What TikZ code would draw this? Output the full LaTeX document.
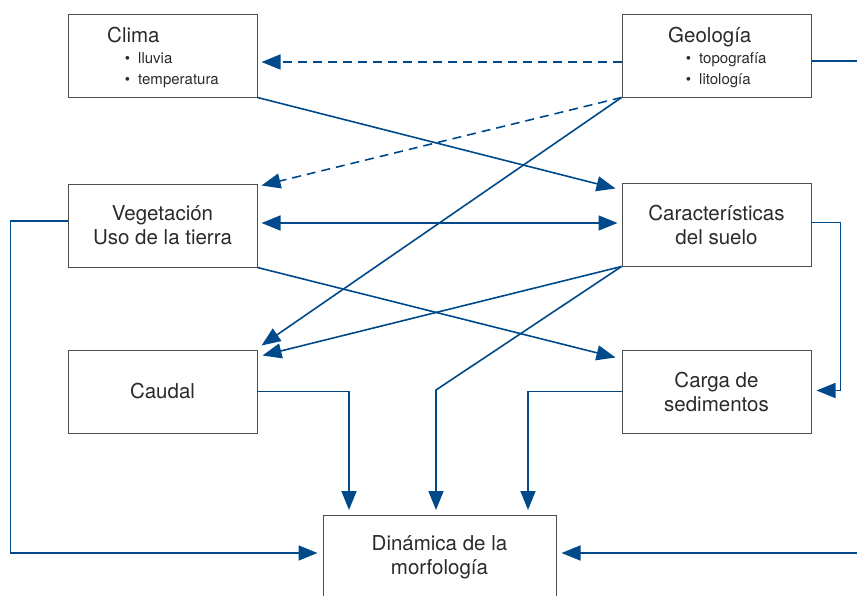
\documentclass[tikz,border=0pt]{standalone}
\usepackage{fontspec}
\setmainfont{TeX Gyre Heros}
\usetikzlibrary{arrows.meta,calc}
\definecolor{flowblue}{HTML}{00498A}
\definecolor{framegray}{HTML}{4D4D4D}
\definecolor{inkgray}{HTML}{2A2A2A}
\tikzset{
  box/.style={draw=framegray, line width=1pt, minimum width=189pt, minimum height=83pt,
    inner sep=0pt, align=center, text=inkgray, font=\fontsize{20.5}{24}\selectfont},
  flow/.style={draw=flowblue, line width=1.6pt, -{Triangle[length=19pt,width=15pt]}},
  link/.style={flow, dash pattern=on 9pt off 6pt},
  title/.style={anchor=base west, inner sep=0pt, text=inkgray, font=\fontsize{20.5}{24}\selectfont},
  item/.style={anchor=base west, inner sep=0pt, text=inkgray, font=\fontsize{15}{18}\selectfont},
}
\newcommand{\bul}{\llap{\textbullet\hspace{8pt}}}
\begin{document}
\begin{tikzpicture}[x=1pt,y=-1pt]
\useasboundingbox (0,0) rectangle (857,595);
\clip (0,0) rectangle (857,595);
% boxes
\node[box] (clima) at (162.5,55.5) {};
\node[box] (geo) at (716.5,55.5) {};
\node[box] (veg) at (162.5,225.5) {Vegetación\\Uso de la tierra};
\node[box] (suelo) at (716.5,224.5) {Características\\del suelo};
\node[box] (caudal) at (162.5,391.5) {Caudal};
\node[box] (carga) at (716.5,391.5) {Carga de\\sedimentos};
\node[box, minimum width=233pt, minimum height=100pt, anchor=north] (dinamica) at (439.5,515) {};
\node[box, draw=none] (dintext) at (439.5,557) {Dinámica de la\\morfología};
% titles and lists
\node[title] (climatit) at (107,42) {Clima};
\node[item] (lluvia) at (138,63) {\bul lluvia};
\node[item] (temp) at (138,84) {\bul temperatura};
\node[title] (geotit) at (668,42) {Geología};
\node[item] (topo) at (699,63) {\bul topografía};
\node[item] (lito) at (699,84) {\bul litología};
% free ends and entries
\coordinate (rimA) at (860,61);
\coordinate (rimB) at (860,553);
\coordinate (inA) at ($(dinamica.north)+(-90.5,-5)$);
\coordinate (inB) at ($(dinamica.north)+(-3.5,-5)$);
\coordinate (inC) at ($(dinamica.north)+(88.5,-5)$);
% dashed links
\draw[link] ($(geo.west)+(0,6.5)$) -- ($(clima.east)+(4,6.5)$);
\draw[link] (geo.south west) -- ($(veg.north east)+(4,2)$);
% crossing arrows
\draw[flow] (clima.south east) -- ($(suelo.north west)+(-6,6)$);
\draw[flow] (geo.south west) -- ($(caudal.north east)+(4,-4)$);
\draw[flow, {Triangle[length=19pt,width=15pt]}-{Triangle[length=19pt,width=15pt]}]
  ($(veg.east)+(4,-2.5)$) -- ($(suelo.west)+(-4,-1.5)$);
\draw[flow] (veg.south east) -- ($(carga.north west)+(-6,8)$);
\draw[flow] (suelo.south west) -- ($(caudal.north east)+(5,6)$);
\draw[flow] (suelo.south west) -- ($(inB)+(0,-120)$) -- (inB);
% into the morphology box
\draw[flow] (caudal.east) -| (inA);
\draw[flow] (carga.west) -| (inC);
\draw[flow] ($(veg.west)+(0,-4.5)$) -- ++(-57,0) |- ($(dinamica.north west)+(-5,38)$);
\draw[flow] (rimB) -- ($(dinamica.north east)+(5,38)$);
\draw[flow, -] ($(geo.east)+(0,5.5)$) -- (rimA);
\draw[flow] ($(suelo.east)+(0,-2)$) -- ++(29,0) |- ($(carga.east)+(5,-1)$);
\end{tikzpicture}
\end{document}
